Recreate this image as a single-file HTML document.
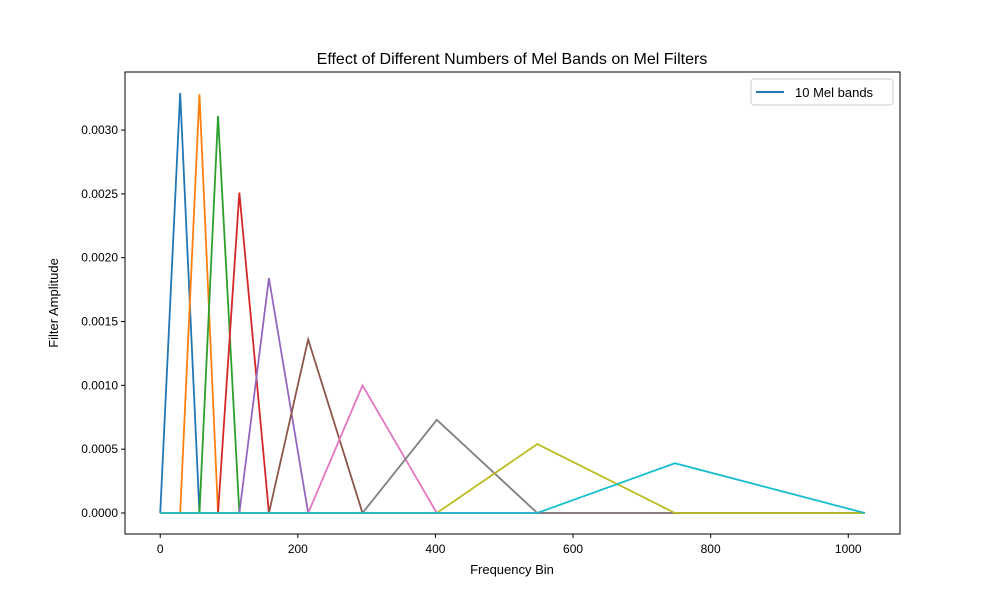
<!DOCTYPE html>
<html><head><meta charset="utf-8"><style>
body{margin:0;background:#fff;}
svg text{font-family:"Liberation Sans","DejaVu Sans",sans-serif;fill:#000;}
</style></head><body>
<svg id="chart" width="1000" height="600" xmlns="http://www.w3.org/2000/svg">
<rect width="1000" height="600" fill="#fff"/>
<text x="512" y="64" font-size="16" text-anchor="middle">Effect of Different Numbers of Mel Bands on Mel Filters</text>
<g id="plot"></g>
<rect x="125" y="72" width="775" height="462" fill="none" stroke="#000" stroke-width="1"/>
<text x="512" y="574" font-size="13" text-anchor="middle">Frequency Bin</text>
<text x="58" y="303" font-size="13" text-anchor="middle" transform="rotate(-90 58 303)">Filter Amplitude</text>
<g>
<rect x="751" y="79" width="142" height="26" fill="#fff" stroke="#ccc" rx="3"/>
<line x1="756" y1="92" x2="784" y2="92" stroke="#1f77b4" stroke-width="2"/>
<text x="795" y="97" font-size="13">10 Mel bands</text>
</g>
</svg>
<script>
const melPoints=[0,29,57,84,115,158,215,294,402,548,748,1024];
const peaks=[0.00329,0.00328,0.00311,0.00251,0.00184,0.00136,0.00100,0.00073,0.00054,0.00039];
const colors=["#1f77b4","#ff7f0e","#2ca02c","#d62728","#9467bd","#8c564b","#e377c2","#7f7f7f","#bcbd22","#17becf"];
const xTicks=[0,200,400,600,800,1000];
const yTicks=[0,0.0005,0.001,0.0015,0.002,0.0025,0.003];
const yLabels=["0.0000","0.0005","0.0010","0.0015","0.0020","0.0025","0.0030"];
const NS="http://www.w3.org/2000/svg";
const X0=125,X1=900,Y0=534,Y1=72;
const xmin=-51.2,xmax=1075.2,ymin=-0.0001645,ymax=0.003455;
const sx=v=>X0+(v-xmin)/(xmax-xmin)*(X1-X0);
const sy=v=>Y0-(v-ymin)/(ymax-ymin)*(Y0-Y1);
const g=document.getElementById('plot');
xTicks.forEach(t=>{
 const l=document.createElementNS(NS,'line');
 l.setAttribute('x1',sx(t));l.setAttribute('x2',sx(t));l.setAttribute('y1',Y0);l.setAttribute('y2',Y0+4);l.setAttribute('stroke','#000');
 
 
 g.appendChild(l);
 const tx=document.createElementNS(NS,'text');
 tx.setAttribute('x',sx(t));tx.setAttribute('y',Y0+19);tx.setAttribute('font-size','12');tx.setAttribute('text-anchor','middle');tx.textContent=t;
 
 
 g.appendChild(tx);
});
yTicks.forEach((t,i)=>{
 const l=document.createElementNS(NS,'line');
 l.setAttribute('x1',X0-4);l.setAttribute('x2',X0);l.setAttribute('y1',sy(t));l.setAttribute('y2',sy(t));l.setAttribute('stroke','#000');
 
 
 g.appendChild(l);
 const tx=document.createElementNS(NS,'text');
 tx.setAttribute('x',X0-7);tx.setAttribute('y',sy(t)+4);tx.setAttribute('font-size','12');tx.setAttribute('text-anchor','end');tx.textContent=yLabels[i];
 
 
 g.appendChild(tx);
});
peaks.forEach((p,i)=>{
 const l=melPoints[i],c=melPoints[i+1],r=melPoints[i+2],end=melPoints[melPoints.length-1];
 const pts=[[0,0],[l,0],[c,p],[r,0],[end,0]].map(q=>sx(q[0])+','+sy(q[1])).join(' ');
 const pl=document.createElementNS(NS,'polyline');
 pl.setAttribute('points',pts);pl.setAttribute('fill','none');pl.setAttribute('stroke',colors[i]);pl.setAttribute('stroke-width','1.8');
 
 
 g.appendChild(pl);
});
</script>
</body></html>
